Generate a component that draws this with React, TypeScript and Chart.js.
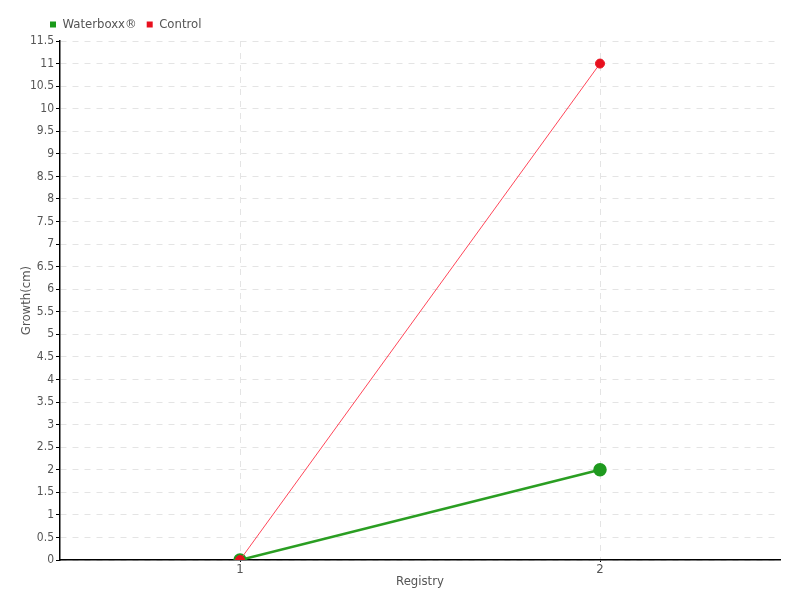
import React, { useEffect, useRef } from "react";
import { Chart, registerables } from "chart.js";

Chart.register(...registerables);

const categories = ["1", "2"];
const waterboxxValues = [0, 2];
const controlValues = [0, 11];
const seriesNames = ["Waterboxx®", "Control"];
const yAxisTitle = "Growth(cm)";
const xAxisTitle = "Registry";

const FONT = "'DejaVu Sans Condensed', 'DejaVu Sans', sans-serif";
const TEXT = "#555";

export default function App() {
  const ref = useRef<HTMLCanvasElement | null>(null);
  useEffect(() => {
    if (!ref.current) return;
    const legendShift = {
      id: "legendShift",
      afterLayout(chart: any) {
        if (chart.legend) {
          const w = chart.legend.right - chart.legend.left;
          chart.legend.left = 40;
          chart.legend.right = 40 + w;
        }
      },
    };
    const chart = new Chart(ref.current, {
      type: "line",
      data: {
        labels: categories,
        datasets: [
          {
            label: seriesNames[1],
            data: controlValues,
            borderColor: "rgba(255,60,80,0.95)",
            backgroundColor: "#e8101e",
            pointBackgroundColor: "#e8101e",
            pointBorderColor: "#e8101e",
            borderWidth: 1,
            pointRadius: 4.5,
            pointHoverRadius: 4.5,
            order: 0,
          },
          {
            label: seriesNames[0],
            data: waterboxxValues,
            borderColor: "#2a9e22",
            backgroundColor: "#1a9a1a",
            pointBackgroundColor: "#1f9a1f",
            pointBorderColor: "#1f9a1f",
            borderWidth: 2.5,
            pointRadius: 5.5,
            pointHoverRadius: 5.5,
            order: 1,
          },
        ],
      },
      plugins: [legendShift],
      options: {
        animation: false,
        responsive: false,
        maintainAspectRatio: false,
        layout: { padding: { left: 0, right: 20, top: 8, bottom: 0 } },
        plugins: {
          tooltip: { enabled: false },
          legend: {
            position: "top",
            align: "start",
            reverse: true,
            labels: {
              boxWidth: 6,
              boxHeight: 6,
              padding: 10,
              color: TEXT,
              font: { family: FONT, size: 13 },
              generateLabels(chart: any) {
                const items = Chart.defaults.plugins.legend.labels.generateLabels(chart);
                return items.map((it: any) => ({ ...it, lineWidth: 0, fillStyle: chart.data.datasets[it.datasetIndex].backgroundColor }));
              },
            },
          },
        },
        scales: {
          x: {
            type: "category",
            offset: true,
            afterFit(scale: any) {
              scale.height = 40;
            },
            grid: {
              offset: false,
              color: "#e4e4e4",
              lineWidth: 1,
              drawTicks: true,
              tickLength: 2,
              tickColor: "#000",
            },
            border: { display: true, color: "#000", width: 1.5, dash: [6, 6] },
            ticks: { color: TEXT, font: { family: FONT, size: 13 }, padding: 0 },
            title: {
              display: true,
              text: xAxisTitle,
              color: TEXT,
              font: { family: FONT, size: 13 },
              padding: { top: 0, bottom: 11 },
            },
          },
          y: {
            min: 0,
            max: 11.5,
            afterFit(scale: any) {
              scale.width = 60;
            },
            ticks: {
              stepSize: 0.5,
              color: TEXT,
              font: { family: FONT, size: 12 },
              padding: 2,
              autoSkip: false,
              callback: (v: any) => String(Number(v)),
            },
            grid: {
              color: "#e4e4e4",
              lineWidth: 1,
              tickLength: 4,
              tickColor: "#000",
            },
            border: { display: true, color: "#000", width: 1.5, dash: [6, 6] },
            title: {
              display: true,
              text: yAxisTitle,
              color: TEXT,
              font: { family: FONT, size: 13 },
              padding: { top: 19, bottom: 0 },
            },
          },
        },
      },
    });
    return () => chart.destroy();
  }, []);
  return (
    <div style={{ position: "fixed", left: 0, top: 0, width: 800, height: 600, background: "#fff" }}>
      <canvas ref={ref} width={800} height={600} style={{ width: 800, height: 600 }} />
    </div>
  );
}
